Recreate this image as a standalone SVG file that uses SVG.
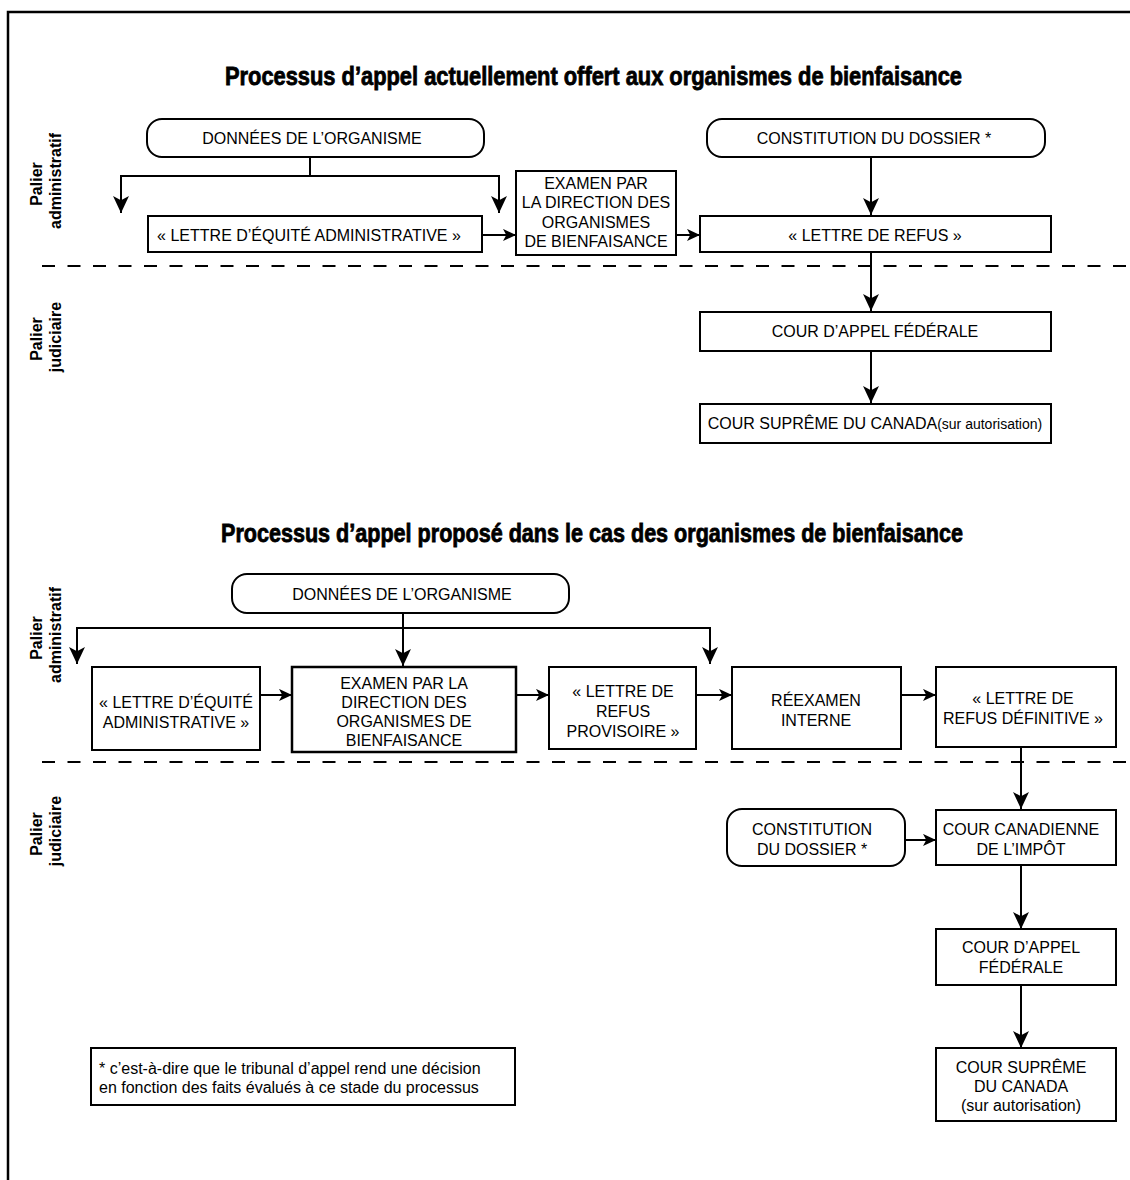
<svg xmlns="http://www.w3.org/2000/svg" width="1130" height="1180" viewBox="0 0 1130 1180">
<style>
.bg{fill:#fff}
.box{fill:#fff;stroke:#000;stroke-width:2}
.t{font-family:"Liberation Sans",Arial,sans-serif;font-size:16px;fill:#000;text-anchor:middle}
.tl{font-family:"Liberation Sans",Arial,sans-serif;font-size:16px;fill:#000}
.title{font-family:"Liberation Sans Narrow","Liberation Sans",Arial,sans-serif;font-weight:bold;font-size:25px;fill:#000;stroke:#000;stroke-width:0.8}
.lane{font-family:"Liberation Sans",Arial,sans-serif;font-weight:bold;font-size:16px;fill:#000;text-anchor:middle}
.ln{fill:none;stroke:#000;stroke-width:2}
.dash{fill:none;stroke:#000;stroke-width:2;stroke-dasharray:13 12.5}
.frame{fill:none;stroke:#000;stroke-width:2.5}
.sm{font-size:14px}
</style>
<defs>
<marker id="av" viewBox="0 0 16 16" refX="16" refY="8" markerWidth="17" markerHeight="17" markerUnits="userSpaceOnUse" orient="auto"><path d="M0,0.5 L16,8 L0,15.5 L4,8 z" fill="#000"/></marker>
<marker id="ah" viewBox="0 0 16 16" refX="16" refY="8" markerWidth="13" markerHeight="13" markerUnits="userSpaceOnUse" orient="auto"><path d="M0,0.5 L16,8 L0,15.5 L4,8 z" fill="#000"/></marker>
</defs>
<rect class="bg" x="0" y="0" width="1130" height="1180"/>
<path class="frame" d="M1130,12 H8 V1180"/>

<!-- Titles -->
<text class="title" x="225" y="85" textLength="737" lengthAdjust="spacingAndGlyphs">Processus d’appel actuellement offert aux organismes de bienfaisance</text>
<text class="title" x="221" y="542" textLength="742" lengthAdjust="spacingAndGlyphs">Processus d’appel proposé dans le cas des organismes de bienfaisance</text>

<!-- Lane labels -->
<g id="lane-admin-1">
<text class="lane" transform="translate(42,184) rotate(-90)">Palier</text>
<text class="lane" transform="translate(61,181) rotate(-90)">administratif</text>
</g>
<g id="lane-jud-1">
<text class="lane" transform="translate(42,339) rotate(-90)">Palier</text>
<text class="lane" transform="translate(61,337) rotate(-90)">judiciaire</text>
</g>
<g id="lane-admin-2">
<text class="lane" transform="translate(42,638) rotate(-90)">Palier</text>
<text class="lane" transform="translate(61,635) rotate(-90)">administratif</text>
</g>
<g id="lane-jud-2">
<text class="lane" transform="translate(42,834) rotate(-90)">Palier</text>
<text class="lane" transform="translate(61,831) rotate(-90)">judiciaire</text>
</g>

<!-- Dashed separators -->
<line class="dash" x1="42" y1="266" x2="1130" y2="266"/>
<line class="dash" x1="42" y1="762" x2="1130" y2="762"/>

<!-- Connectors -->
<g id="connectors">
<path class="ln" d="M310,157 V176"/>
<path class="ln" d="M310,176 H121 V213" marker-end="url(#av)"/>
<path class="ln" d="M310,176 H499 V213" marker-end="url(#av)"/>
<path class="ln" d="M482,235 H516" marker-end="url(#ah)"/>
<path class="ln" d="M676,235 H700" marker-end="url(#ah)"/>
<path class="ln" d="M871,157 V215" marker-end="url(#av)"/>
<path class="ln" d="M871,252 V311" marker-end="url(#av)"/>
<path class="ln" d="M871,351 V403" marker-end="url(#av)"/>

<path class="ln" d="M403,613 V666" marker-end="url(#av)"/>
<path class="ln" d="M77,628 H710"/>
<path class="ln" d="M77,627 V664" marker-end="url(#av)"/>
<path class="ln" d="M710,627 V664" marker-end="url(#av)"/>
<path class="ln" d="M260,695 H292" marker-end="url(#ah)"/>
<path class="ln" d="M516,695 H549" marker-end="url(#ah)"/>
<path class="ln" d="M696,695 H732" marker-end="url(#ah)"/>
<path class="ln" d="M901,695 H936" marker-end="url(#ah)"/>
<path class="ln" d="M1021,747 V809" marker-end="url(#av)"/>
<path class="ln" d="M905,840 H936" marker-end="url(#ah)"/>
<path class="ln" d="M1021,865 V929" marker-end="url(#av)"/>
<path class="ln" d="M1021,985 V1048" marker-end="url(#av)"/>
</g>

<!-- Top diagram nodes -->
<g id="donnees-1">
<rect class="box" x="147" y="119" width="337" height="38" rx="15"/>
<text class="t" x="312" y="144">DONNÉES DE L’ORGANISME</text>
</g>
<g id="equite-1">
<rect class="box" x="148" y="216" width="334" height="36"/>
<text class="t" x="309" y="241">« LETTRE D’ÉQUITÉ ADMINISTRATIVE »</text>
</g>
<g id="examen-1">
<rect class="box" x="516" y="171" width="160" height="84"/>
<text class="t" x="596" y="189">EXAMEN PAR</text>
<text class="t" x="596" y="208">LA DIRECTION DES</text>
<text class="t" x="596" y="228">ORGANISMES</text>
<text class="t" x="596" y="247">DE BIENFAISANCE</text>
</g>
<g id="constitution-1">
<rect class="box" x="707" y="119" width="338" height="38" rx="15"/>
<text class="t" x="874" y="144">CONSTITUTION DU DOSSIER *</text>
</g>
<g id="refus-1">
<rect class="box" x="700" y="216" width="351" height="36"/>
<text class="t" x="875" y="241">« LETTRE DE REFUS »</text>
</g>
<g id="cour-appel-1">
<rect class="box" x="700" y="312" width="351" height="39"/>
<text class="t" x="875" y="337">COUR D’APPEL FÉDÉRALE</text>
</g>
<g id="cour-supreme-1">
<rect class="box" x="700" y="404" width="351" height="39"/>
<text class="t" x="875" y="429">COUR SUPRÊME DU CANADA<tspan class="sm">(sur autorisation)</tspan></text>
</g>

<!-- Bottom diagram nodes -->
<g id="donnees-2">
<rect class="box" x="232" y="574" width="337" height="39" rx="15"/>
<text class="t" x="402" y="600">DONNÉES DE L’ORGANISME</text>
</g>
<g id="equite-2">
<rect class="box" x="92" y="667" width="168" height="83"/>
<text class="t" x="176" y="708">« LETTRE D’ÉQUITÉ</text>
<text class="t" x="176" y="728">ADMINISTRATIVE »</text>
</g>
<g id="examen-2">
<rect class="box" x="292" y="667" width="224" height="85" style="stroke-width:2.5"/>
<text class="t" x="404" y="689">EXAMEN PAR LA</text>
<text class="t" x="404" y="708">DIRECTION DES</text>
<text class="t" x="404" y="727">ORGANISMES DE</text>
<text class="t" x="404" y="746">BIENFAISANCE</text>
</g>
<g id="refus-provisoire">
<rect class="box" x="549" y="667" width="147" height="82"/>
<text class="t" x="623" y="697">« LETTRE DE</text>
<text class="t" x="623" y="717">REFUS</text>
<text class="t" x="623" y="737">PROVISOIRE »</text>
</g>
<g id="reexamen">
<rect class="box" x="732" y="667" width="169" height="82"/>
<text class="t" x="816" y="706">RÉEXAMEN</text>
<text class="t" x="816" y="726">INTERNE</text>
</g>
<g id="refus-definitive">
<rect class="box" x="936" y="667" width="180" height="80"/>
<text class="t" x="1023" y="704">« LETTRE DE</text>
<text class="t" x="1023" y="724">REFUS DÉFINITIVE »</text>
</g>
<g id="constitution-2">
<rect class="box" x="727" y="809" width="178" height="57" rx="15"/>
<text class="t" x="812" y="835">CONSTITUTION</text>
<text class="t" x="812" y="855">DU DOSSIER *</text>
</g>
<g id="cour-impot">
<rect class="box" x="936" y="810" width="180" height="55"/>
<text class="t" x="1021" y="835">COUR CANADIENNE</text>
<text class="t" x="1021" y="855">DE L’IMPÔT</text>
</g>
<g id="cour-appel-2">
<rect class="box" x="936" y="929" width="180" height="56"/>
<text class="t" x="1021" y="953">COUR D’APPEL</text>
<text class="t" x="1021" y="973">FÉDÉRALE</text>
</g>
<g id="cour-supreme-2">
<rect class="box" x="936" y="1048" width="180" height="73"/>
<text class="t" x="1021" y="1073">COUR SUPRÊME</text>
<text class="t" x="1021" y="1092">DU CANADA</text>
<text class="t" x="1021" y="1111">(sur autorisation)</text>
</g>
<g id="footnote">
<rect class="box" x="91" y="1048" width="424" height="57"/>
<text class="tl" x="99" y="1074">* c’est-à-dire que le tribunal d’appel rend une décision</text>
<text class="tl" x="99" y="1093">en fonction des faits évalués à ce stade du processus</text>
</g>
</svg>
